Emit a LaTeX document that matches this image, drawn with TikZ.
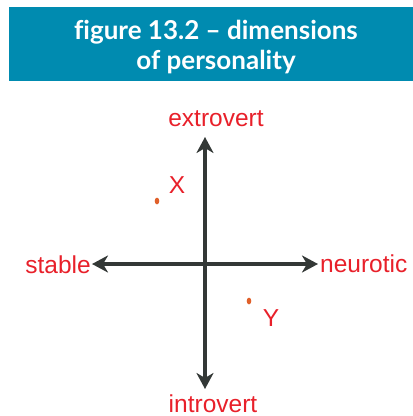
\documentclass[tikz,border=0pt]{standalone}
\usepackage{fontspec}
\setmainfont{Liberation Sans}
\newfontfamily\titlefont{Lato}
\usetikzlibrary{arrows.meta}
\definecolor{banner}{HTML}{008BB0}
\definecolor{lbl}{HTML}{E8202A}
\definecolor{dot}{HTML}{E0602A}
\definecolor{axis}{HTML}{333836}
\begin{document}
\begin{tikzpicture}[x=1pt,y=-1pt,
  lab/.style={text=lbl,font=\fontsize{24.5}{26}\selectfont,inner sep=0pt},
  axisline/.style={draw=axis,line width=3.2pt,{Stealth[inset=5pt,length=16pt,width=17pt]}-{Stealth[inset=5pt,length=16pt,width=17pt]}}]
\useasboundingbox (0,0) rectangle (413,416);
\fill[banner] (9,7) rectangle (413,81);
\node[text=white,font=\titlefont\bfseries\fontsize{26}{30}\selectfont,align=center] (title) at (216,47) {f\kern0pt igure 13.2 – dimensions\\of personality};
\coordinate (top) at (205,137);
\coordinate (bot) at (205,389);
\coordinate (lft) at (92,264);
\coordinate (rgt) at (318,264);
\draw[axisline] (bot) -- (top);
\draw[axisline] (lft) -- (rgt);
\node[lab,anchor=base] (ext) at (216,126) {extrovert};
\node[lab,anchor=base] (intro) at (213,412) {introvert};
\node[lab,anchor=base east] (stab) at (91,273) {stable};
\node[lab,anchor=base west] (neur) at (320,272) {neurotic};
\fill[dot] (157,201) ellipse (2.3pt and 3.4pt);
\fill[dot] (249,301) ellipse (2.3pt and 3.4pt);
\node[lab] (X) at (177,185) {X};
\node[lab] (Y) at (271,318) {Y};
\end{tikzpicture}
\end{document}
